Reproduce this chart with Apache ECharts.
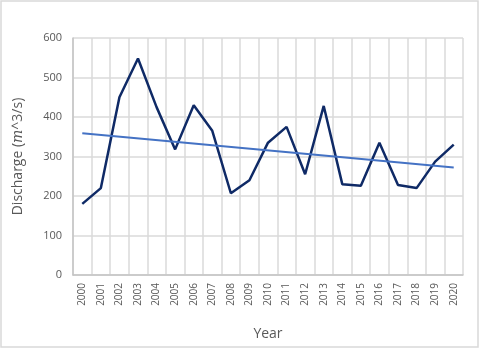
<!DOCTYPE html>
<html>
<head>
<meta charset="utf-8">
<script src="https://cdn.jsdelivr.net/npm/echarts@6/dist/echarts.min.js"></script>
<style>
  html, body { margin: 0; padding: 0; background: #fff; }
  #chart { width: 480px; height: 349px; }
</style>
</head>
<body>
<div id="chart"></div>
<script>
var years = ['2000', '2001', '2002', '2003', '2004', '2005', '2006', '2007', '2008', '2009', '2010',
    '2011', '2012', '2013', '2014', '2015', '2016', '2017', '2018', '2019', '2020'];
var discharge = [180, 220, 450, 548, 425, 318, 430, 365, 207, 240, 335,
    375, 255, 428, 230, 226, 335, 228, 220, 287, 330];
// linear trend, read at both ends
var trend = [359, null, null, null, null, null, null, null, null, null, null,
    null, null, null, null, null, null, null, null, null, 272];

var chart = echarts.init(document.getElementById('chart'));
var textColor = '#595959';
var font = '"Open Sans", "Noto Sans", sans-serif';

var option = {
    animation: false,
    textStyle: { fontFamily: font },
    grid: { left: 73, right: 17, top: 38, bottom: 74 },
    graphic: [{
        type: 'rect',
        shape: { x: 1, y: 1, width: 477, height: 346 },
        style: { fill: 'none', stroke: '#d9d9d9', lineWidth: 1.5 }
    }],
    xAxis: {
        type: 'category',
        data: years,
        name: 'Year',
        nameLocation: 'middle',
        nameGap: 52,
        nameTextStyle: { color: textColor, fontSize: 14, fontFamily: font },
        axisLine: { lineStyle: { color: '#c4c4c4', width: 1.5 } },
        axisTick: { show: false },
        axisLabel: { rotate: 90, color: textColor, fontSize: 10, margin: 8, fontFamily: font },
        splitLine: { show: true, lineStyle: { color: '#dadada', width: 1.5 } }
    },
    yAxis: {
        type: 'value',
        min: 0,
        max: 600,
        interval: 100,
        name: '{n|Discharge (}{i|m}{n|^3/s)}',
        nameLocation: 'middle',
        nameGap: 48,
        nameTextStyle: {
            color: textColor,
            rich: {
                n: { color: textColor, fontSize: 14, fontFamily: font },
                i: { color: textColor, fontSize: 14, fontStyle: 'italic', fontFamily: 'DejaVu Serif' }
            }
        },
        axisLine: { show: true, lineStyle: { color: '#c4c4c4', width: 1.5 } },
        axisLabel: { color: textColor, fontSize: 11, margin: 11, fontFamily: font },
        splitLine: { lineStyle: { color: '#dadada', width: 1.5 } }
    },
    series: [{
        name: 'Discharge',
        type: 'line',
        data: discharge,
        symbol: 'none',
        lineStyle: { color: '#0f2a66', width: 2.5 },
        z: 3
    }, {
        name: 'Trend',
        type: 'line',
        data: trend,
        connectNulls: true,
        symbol: 'none',
        lineStyle: { color: '#4472c4', width: 2 },
        z: 4
    }]
};

chart.setOption(option);
</script>
</body>
</html>
